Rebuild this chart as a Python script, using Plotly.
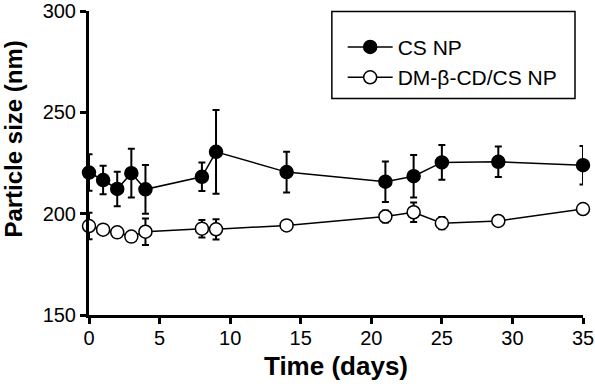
import plotly.graph_objects as go

days = [0, 1, 2, 3, 4, 8, 9, 14, 21, 23, 25, 29, 35]

cs_np = [220.3, 216.6, 212.2, 220.0, 212.0, 218.2, 230.5, 220.5, 215.8, 218.5, 225.3, 225.6, 223.9]
cs_np_err = [9.0, 7.0, 8.5, 12.0, 12.0, 7.0, 20.7, 10.0, 10.0, 10.5, 8.6, 7.5, 9.5]

dm_cd_np = [193.9, 192.1, 190.8, 188.7, 191.1, 192.6, 192.3, 194.2, 198.6, 200.7, 195.3, 196.4, 202.3]
dm_cd_np_err = [6.5, 1.5, 1.5, 1.5, 6.5, 4.3, 5.0, 2.0, 3.0, 4.8, 3.0, 2.0, 2.0]

series_names = ["CS NP", "DM-β-CD/CS NP"]
x_ticks = [0, 5, 10, 15, 20, 25, 30, 35]
y_ticks = [150, 200, 250, 300]

FONT = "Arial, 'Liberation Sans', sans-serif"

fig = go.Figure()

fig.add_trace(go.Scatter(
    x=days, y=cs_np, name=series_names[0], mode="lines+markers",
    line=dict(color="black", width=1.5),
    marker=dict(symbol="circle", size=13, color="black", line=dict(color="black", width=1.5)),
    error_y=dict(type="data", array=cs_np_err, visible=True, color="black", thickness=2, width=3.5),
    cliponaxis=False,
))

fig.add_trace(go.Scatter(
    x=days, y=dm_cd_np, name=series_names[1], mode="lines+markers",
    line=dict(color="black", width=1.5),
    marker=dict(symbol="circle", size=13, color="white", line=dict(color="black", width=1.5)),
    error_y=dict(type="data", array=dm_cd_np_err, visible=True, color="black", thickness=2, width=3.5),
    cliponaxis=False,
))

fig.update_layout(
    width=595, height=386,
    margin=dict(l=89, r=12, t=11, b=71),
    paper_bgcolor="white", plot_bgcolor="white",
    font=dict(family=FONT, color="black", size=20),
    showlegend=True,
    legend=dict(
        x=0.5135, y=0.948, xanchor="left", yanchor="top",
        bgcolor="rgba(0,0,0,0)", borderwidth=0,
        font=dict(family=FONT, size=21, color="black"),
        tracegroupgap=0, itemwidth=45,
    ),
    shapes=[dict(
        type="rect", xref="paper", yref="paper",
        x0=0.4916, x1=0.9838, y0=0.712, y1=0.9985,
        line=dict(color="black", width=1.5), fillcolor="rgba(0,0,0,0)", layer="below",
    )],
    annotations=[dict(
        text="<b>Particle size (nm)</b>", xref="paper", yref="paper",
        x=-0.152, y=0.58, xanchor="center", yanchor="middle",
        textangle=-90, showarrow=False,
        font=dict(family=FONT, size=24, color="black"),
    )],
)

fig.update_xaxes(
    range=[0, 35], tickvals=x_ticks, automargin=False,
    showline=True, linecolor="black", linewidth=3,
    ticks="outside", ticklen=6, tickwidth=2.5, tickcolor="black",
    showgrid=False, zeroline=False, ticklabeloverflow="allow",
    tickfont=dict(family=FONT, size=20, color="black"),
    ticklabelstandoff=-3,
    title=dict(text="<b>Time (days)</b>", font=dict(family=FONT, size=26, color="black"), standoff=9),
)

fig.update_yaxes(
    range=[150, 300], tickvals=y_ticks, automargin=False,
    showline=True, linecolor="black", linewidth=3,
    ticks="outside", ticklen=6, tickwidth=2.5, tickcolor="black",
    showgrid=False, zeroline=False, ticklabeloverflow="allow",
    tickfont=dict(family=FONT, size=20, color="black"),
)

fig.write_html("out.html", config={"displayModeBar": False},
               post_script="document.body.style.margin='0';")
